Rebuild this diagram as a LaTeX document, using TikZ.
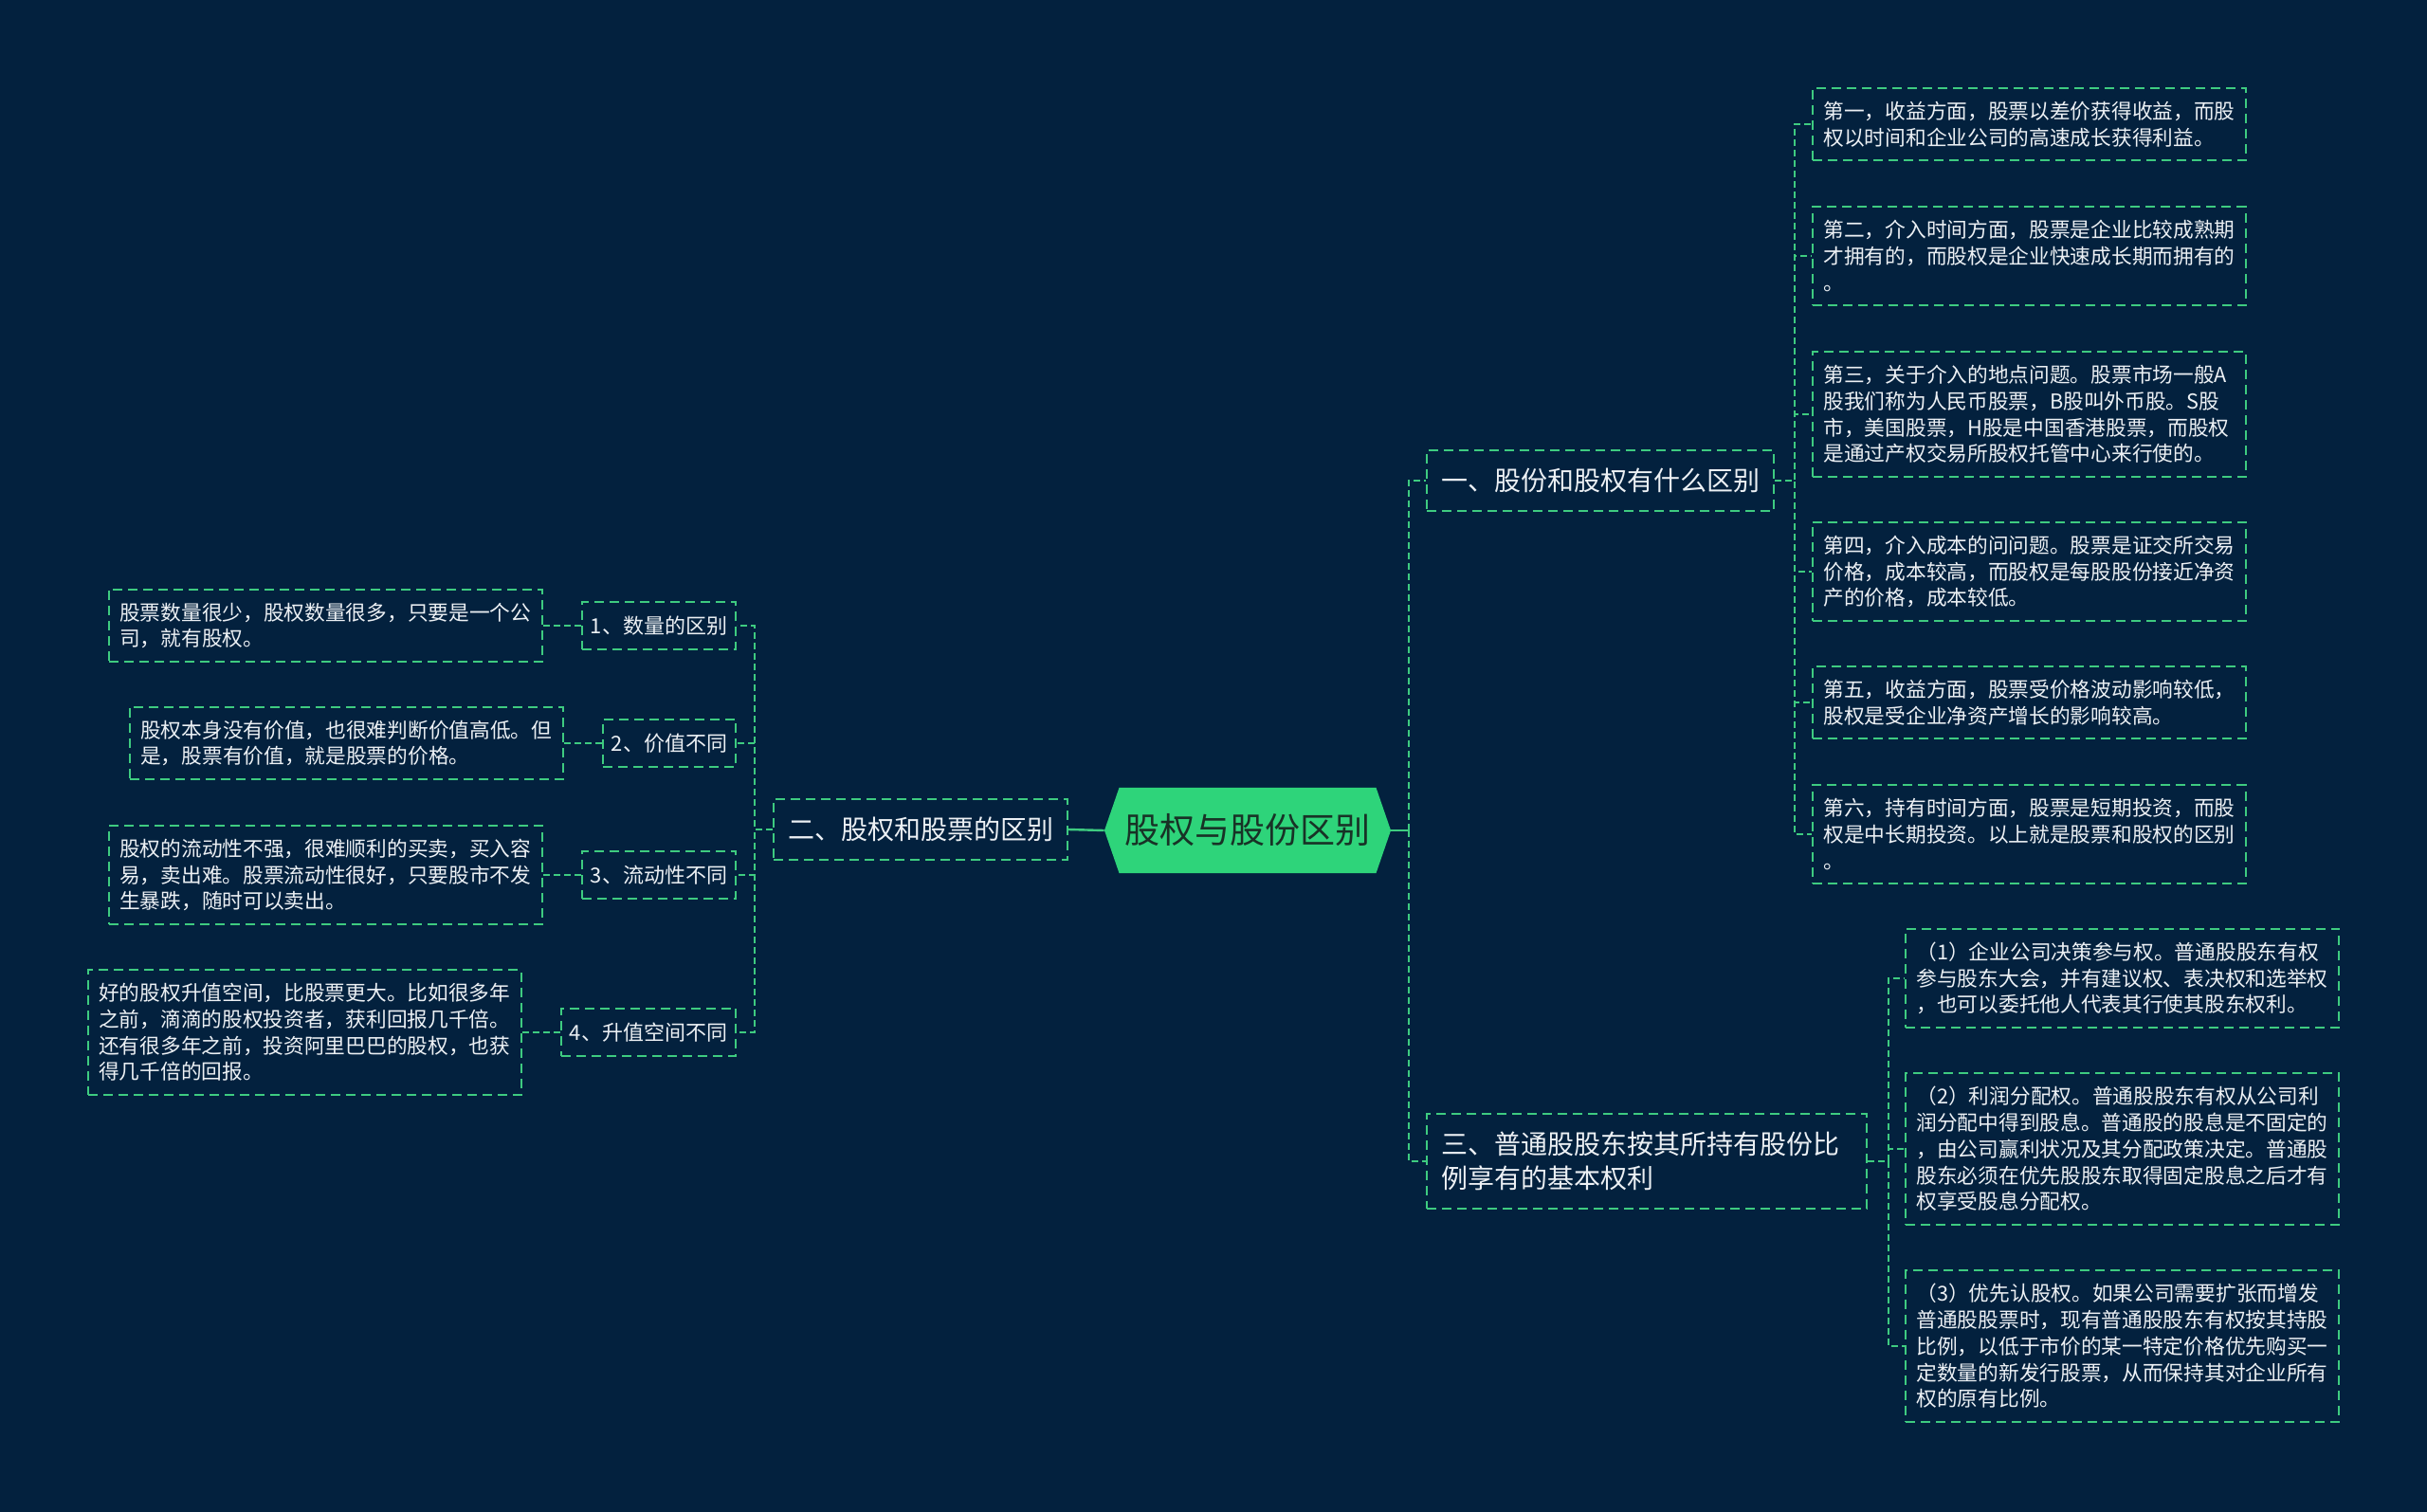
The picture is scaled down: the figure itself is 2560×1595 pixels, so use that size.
\documentclass[tikz,border=0pt]{standalone}
\usepackage{fontspec}
\setmainfont{Noto Sans CJK SC}
\usepackage{tikz}
\usetikzlibrary{positioning,shapes.symbols}
\usepackage{xcolor}
\definecolor{bgnavy}{RGB}{3,33,62}
\definecolor{linegreen}{RGB}{62,203,128}
\definecolor{rootgreen}{RGB}{46,212,122}
\definecolor{rootink}{RGB}{24,50,38}
\definecolor{paper}{RGB}{236,240,244}

\begin{document}
\begin{tikzpicture}[x=0.5pt,y=-0.5pt,every node/.style={text=paper},
    link/.style={linegreen,line width=1pt,dash pattern=on 3.5pt off 2pt},
    trunk/.style={linegreen,line width=1.2pt},
    box/.style={draw=linegreen,line width=1pt,dash pattern=on 5pt off 3pt},
    leaf/.style={box,font=\fontsize{10.85}{13.9}\selectfont,text width=217pt,align=left,inner xsep=5.75pt,inner ysep=7pt},
    sub/.style={box,font=\fontsize{11}{14}\selectfont,inner xsep=4.5pt,inner ysep=7.5pt},
    topic/.style={box,font=\fontsize{14}{18}\selectfont,align=left,inner xsep=7.5pt,inner ysep=9.5pt}]
        \fill[bgnavy](0,0)rectangle(2560,1595);
        \useasboundingbox(0,0)rectangle(2560,1595);
        \node[signal,signal to=west and east,signal pointer angle=142,fill=rootgreen,text=rootink,
          font=\fontsize{18.5}{22}\selectfont,inner xsep=3pt,inner ysep=14pt](root) at (1316,876){股权与股份区别};
        % left side
        \node[topic,anchor=east](diff) at (1127,875){二、股权和股票的区别};
        \node[sub,anchor=east](qty) at (777,660){1、数量的区别};
        \node[sub,anchor=east](val) at (777,784){2、价值不同};
        \node[sub,anchor=east](liq) at (777,923){3、流动性不同};
        \node[sub,anchor=east](gain) at (777,1089){4、升值空间不同};
        \node[leaf,left=20pt of qty](qtytxt){股票数量很少，股权数量很多，只要是一个公\\司，就有股权。};
        \node[leaf,left=20pt of val](valtxt){股权本身没有价值，也很难判断价值高低。但\\是，股票有价值，就是股票的价格。};
        \node[leaf,left=20pt of liq](liqtxt){股权的流动性不强，很难顺利的买卖，买入容\\易，卖出难。股票流动性很好，只要股市不发\\生暴跌，随时可以卖出。};
        \node[leaf,left=20pt of gain](gaintxt){好的股权升值空间，比股票更大。比如很多年\\之前，滴滴的股权投资者，获利回报几千倍。\\还有很多年之前，投资阿里巴巴的股权，也获\\得几千倍的回报。};
        % right side
        \node[topic,anchor=west](what) at (1504,507){一、股份和股权有什么区别};
        \node[topic,anchor=west,text width=217pt](rights) at (1504,1225){三、普通股股东按其所持有股份比\\例享有的基本权利};
        \node[leaf,anchor=west](first) at (1911,131){第一，收益方面，股票以差价获得收益，而股\\权以时间和企业公司的高速成长获得利益。};
        \node[leaf,anchor=west](second) at (1911,270){第二，介入时间方面，股票是企业比较成熟期\\才拥有的，而股权是企业快速成长期而拥有的\\。};
        \node[leaf,anchor=west](third) at (1911,437){第三，关于介入的地点问题。股票市场一般A\\股我们称为人民币股票，B股叫外币股。S股\\市，美国股票，H股是中国香港股票，而股权\\是通过产权交易所股权托管中心来行使的。};
        \node[leaf,anchor=west](fourth) at (1911,603){第四，介入成本的问问题。股票是证交所交易\\价格，成本较高，而股权是每股股份接近净资\\产的价格，成本较低。};
        \node[leaf,anchor=west](fifth) at (1911,741){第五，收益方面，股票受价格波动影响较低，\\股权是受企业净资产增长的影响较高。};
        \node[leaf,anchor=west](sixth) at (1911,880){第六，持有时间方面，股票是短期投资，而股\\权是中长期投资。以上就是股票和股权的区别\\。};
        \node[leaf,anchor=west](vote) at (2009,1032){（1）企业公司决策参与权。普通股股东有权\\参与股东大会，并有建议权、表决权和选举权\\，也可以委托他人代表其行使其股东权利。};
        \node[leaf,anchor=west](profit) at (2009,1212){（2）利润分配权。普通股股东有权从公司利\\润分配中得到股息。普通股的股息是不固定的\\，由公司赢利状况及其分配政策决定。普通股\\股东必须在优先股股东取得固定股息之后才有\\权享受股息分配权。};
        \node[leaf,anchor=west](prior) at (2009,1420){（3）优先认股权。如果公司需要扩张而增发\\普通股股票时，现有普通股股东有权按其持股\\比例，以低于市价的某一特定价格优先购买一\\定数量的新发行股票，从而保持其对企业所有\\权的原有比例。};
        % connectors
        \draw[trunk](root.west)--(diff.east);
        \draw[trunk](root.east)--++(19,0)coordinate(rspine);
        \foreach \n in {what,rights}{
          \draw[link](rspine)|-(\n.west);
        }
        \foreach \n in {qty,val,liq,gain}{
          \draw[link](diff.west)--++(-19,0)|-(\n.east);
          \draw[link](\n.west)--(\n txt.east);
        }
        \foreach \n in {first,second,third,fourth,fifth,sixth}{
          \draw[link](what.east)--++(21,0)|-(\n.west);
        }
        \foreach \n in {vote,profit,prior}{
          \draw[link](rights.east)--++(22,0)|-(\n.west);
        }
      \end{tikzpicture}
\end{document}
